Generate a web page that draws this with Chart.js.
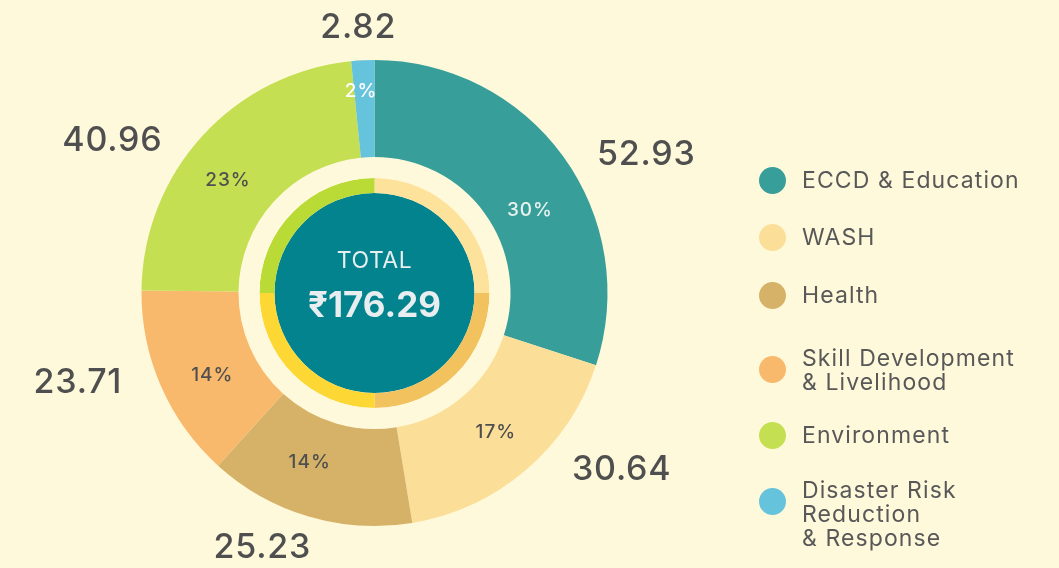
<!DOCTYPE html>
<html>
<head>
<meta charset="utf-8">
<script src="https://cdn.jsdelivr.net/npm/chart.js@4.4.1/dist/chart.umd.min.js"></script>
<style>
  html, body { margin: 0; padding: 0; background: #fff9dc; }
  #wrap { position: relative; width: 1059px; height: 568px; overflow: hidden; background: #fff9dc; }
  #c { position: absolute; left: 0; top: 0; width: 1059px; height: 568px; }
  .lg { position: absolute; left: 802px; font-family: Inter, "Noto Sans", sans-serif; font-size: 23px; letter-spacing: 1.1px; line-height: 24px; color: #585858; white-space: pre; }
  .dot { position: absolute; left: 759px; width: 27px; height: 27px; border-radius: 50%; }
</style>
</head>
<body>
<div id="wrap">
  <canvas id="c" width="1059" height="568"></canvas>
</div>
<script>
// ---- data ----
const categories = ['ECCD & Education', 'WASH', 'Health', 'Skill Development\n& Livelihood', 'Environment', 'Disaster Risk\nReduction\n& Response'];
const values = [52.93, 30.64, 25.23, 23.71, 40.96, 2.82];
const valueLabels = ['52.93', '30.64', '25.23', '23.71', '40.96', '2.82'];
const percentLabels = ['30%', '17%', '14%', '14%', '23%', '2%'];
const totalTitle = 'TOTAL';
const totalLabel = '\u20B9176.29';
const innerRingValues = [1, 1, 1, 1];

// ---- styles / layout ----
const bg = '#fff9dc';
const colors = ['#379e9a', '#fbdf99', '#d6b268', '#f8b96c', '#c5df52', '#66c3dc'];
const innerRingColors = ['#fde29b', '#f2c25f', '#fdd835', '#bada36'];
const centerColor = '#02838e';
const pctColors = ['#e9f2ef', '#4f4f4f', '#4f4f4f', '#4f4f4f', '#4f4f4f', '#ffffff'];
// label placement: [angle from top clockwise (deg), distance from centre (px)]
const valuePos = [[63, 305], [125.6, 304], [203.8, 278], [253.1, 310], [300.1, 303], [356.5, 266]];
const pctPos = [[62, 176], [139, 185], [201, 181], [243, 182], [307.6, 185], [356.2, 202]];
const legendFirstLine = [180, 237, 295, 358, 435, 490];

const labelsPlugin = {
  id: 'labels',
  afterDatasetsDraw(chart) {
    const ctx = chart.ctx;
    const arc = chart.getDatasetMeta(0).data[0];
    const cx = arc.x, cy = arc.y;
    ctx.save();
    ctx.textAlign = 'center';
    ctx.textBaseline = 'middle';
    // value labels
    ctx.font = '500 34px Inter, "Noto Sans", sans-serif';
    ctx.letterSpacing = '0.8px';
    ctx.fillStyle = '#4f4f4f';
    valueLabels.forEach((t, i) => {
      const a = valuePos[i][0] * Math.PI / 180, r = valuePos[i][1];
      ctx.fillText(t, cx + r * Math.sin(a), cy - r * Math.cos(a));
    });
    // percent labels
    ctx.font = '500 19px Inter, "Noto Sans", sans-serif';
    ctx.letterSpacing = '1px';
    percentLabels.forEach((t, i) => {
      const a = pctPos[i][0] * Math.PI / 180, r = pctPos[i][1];
      ctx.fillStyle = pctColors[i];
      ctx.fillText(t, cx + r * Math.sin(a), cy - r * Math.cos(a));
    });
    // centre text
    ctx.fillStyle = '#e8eef0';
    ctx.letterSpacing = '0.5px';
    ctx.font = '400 23px Inter, "Noto Sans", sans-serif';
    ctx.fillText(totalTitle, cx, cy - 32);
    ctx.letterSpacing = '0px';
    ctx.font = '700 35px Inter, "Noto Sans", sans-serif';
    ctx.fillText(totalLabel, cx, cy + 13);
    ctx.restore();
  }
};

new Chart(document.getElementById('c'), {
  type: 'doughnut',
  data: {
    labels: categories,
    datasets: [
      { data: values, backgroundColor: colors, borderWidth: 0, weight: 97 },
      { data: [1], backgroundColor: [bg], borderWidth: 0, weight: 21 },
      { data: innerRingValues, backgroundColor: innerRingColors, borderWidth: 0, weight: 15 },
      { data: [1], backgroundColor: [centerColor], borderWidth: 0, weight: 100 }
    ]
  },
  options: {
    responsive: false,
    animation: false,
    cutout: 0,
    layout: { padding: { left: 141.5, right: 451.5, top: 60, bottom: 42 } },
    plugins: { legend: { display: false }, tooltip: { enabled: false } },
    events: []
  },
  plugins: [labelsPlugin]
});

// HTML legend
const wrap = document.getElementById('wrap');
categories.forEach((name, i) => {
  const lines = name.split('\n').length;
  const dot = document.createElement('div');
  dot.className = 'dot';
  dot.style.background = colors[i];
  const dotCenter = legendFirstLine[i] + (lines > 1 ? 11 : 0);
  dot.style.top = (dotCenter - 13.5) + 'px';
  wrap.appendChild(dot);
  const lg = document.createElement('div');
  lg.className = 'lg';
  lg.textContent = name;
  lg.style.top = (legendFirstLine[i] - 12) + 'px';
  wrap.appendChild(lg);
});
</script>
</body>
</html>
